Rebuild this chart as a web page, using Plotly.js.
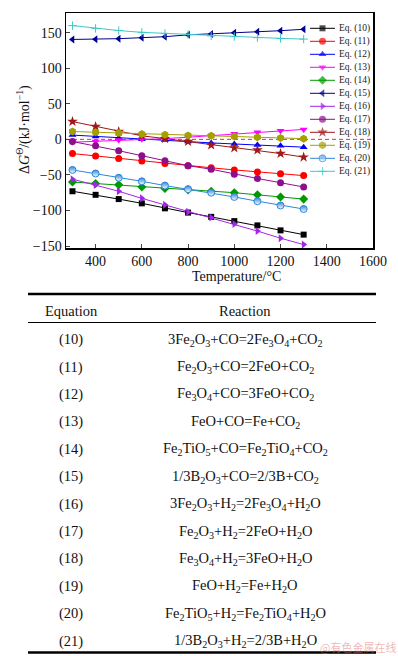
<!DOCTYPE html>
<html>
<head>
<meta charset="utf-8">
<script src="https://cdn.plot.ly/plotly-3.0.1.min.js"></script>
<style>html,body{margin:0;padding:0;background:#fff;}#chart{width:398px;height:656px;}</style>
</head>
<body>
<div id="chart"></div>
<script>
// ---- data ----
const temperature = [300, 400, 500, 600, 700, 800, 900, 1000, 1100, 1200, 1300];
const eq10 = [-73, -78, -84, -90, -97, -103, -109, -115, -121, -128, -134];
const eq11 = [-20, -23.5, -27, -30.5, -34, -37, -40, -43, -46, -48.5, -51];
const eq12 = [6, 4, 2, 0, -1, -3, -5, -6.5, -8, -9, -11];
const eq13 = [-4, -3, -1, 0, 1, 3, 5, 8, 10, 12, 14];
const eq14 = [-60, -62, -64, -67, -69, -71, -73, -75, -78, -81, -84];
const eq15 = [140.5, 140.7, 141.6, 143, 144.4, 147, 148.2, 150, 151.4, 152.8, 154.8];
const eq16 = [-56, -64, -73, -83, -92, -102, -110, -119, -129, -139, -148];
const eq17 = [-3, -9, -16, -23, -30, -37, -42, -49, -55, -61, -67];
const eq18 = [25, 18, 11, 5, 1, -3, -8, -12, -15, -20, -25];
const eq19 = [11, 10, 9, 7.5, 6.5, 5.5, 5, 4, 3, 2, 1];
const eq20 = [-43, -48, -54, -59, -65, -70, -75, -81, -87, -93, -98];
const eq21 = [160, 156, 153, 150.5, 149, 147.5, 145.5, 144.5, 143, 142, 141];
const seriesNames = ['Eq. (10)','Eq. (11)','Eq. (12)','Eq. (13)','Eq. (14)','Eq. (15)','Eq. (16)','Eq. (17)','Eq. (18)','Eq. (19)','Eq. (20)','Eq. (21)'];
const xTicks = [400, 600, 800, 1000, 1200, 1400, 1600];
const yTicks = [-150, -100, -50, 0, 50, 100, 150];
const eqLabels = ['(10)','(11)','(12)','(13)','(14)','(15)','(16)','(17)','(18)','(19)','(20)','(21)'];
const reactions = [
  '3Fe<sub>2</sub>O<sub>3</sub>+CO=2Fe<sub>3</sub>O<sub>4</sub>+CO<sub>2</sub>',
  'Fe<sub>2</sub>O<sub>3</sub>+CO=2FeO+CO<sub>2</sub>',
  'Fe<sub>3</sub>O<sub>4</sub>+CO=3FeO+CO<sub>2</sub>',
  'FeO+CO=Fe+CO<sub>2</sub>',
  'Fe<sub>2</sub>TiO<sub>5</sub>+CO=Fe<sub>2</sub>TiO<sub>4</sub>+CO<sub>2</sub>',
  '1/3B<sub>2</sub>O<sub>3</sub>+CO=2/3B+CO<sub>2</sub>',
  '3Fe<sub>2</sub>O<sub>3</sub>+H<sub>2</sub>=2Fe<sub>3</sub>O<sub>4</sub>+H<sub>2</sub>O',
  'Fe<sub>2</sub>O<sub>3</sub>+H<sub>2</sub>=2FeO+H<sub>2</sub>O',
  'Fe<sub>3</sub>O<sub>4</sub>+H<sub>2</sub>=3FeO+H<sub>2</sub>O',
  'FeO+H<sub>2</sub>=Fe+H<sub>2</sub>O',
  'Fe<sub>2</sub>TiO<sub>5</sub>+H<sub>2</sub>=Fe<sub>2</sub>TiO<sub>4</sub>+H<sub>2</sub>O',
  '1/3B<sub>2</sub>O<sub>3</sub>+H<sub>2</sub>=2/3B+H<sub>2</sub>O'
];

// ---- styles ----
const allSeries = [eq10, eq11, eq12, eq13, eq14, eq15, eq16, eq17, eq18, eq19, eq20, eq21];
const styles = [
  {c:'#000000', s:'square', z:6},
  {c:'#ff0000', s:'circle', z:7},
  {c:'#0000ff', s:'triangle-up', z:7},
  {c:'#ff00ff', s:'triangle-down', z:7},
  {c:'#009a00', s:'diamond', z:7},
  {c:'#000090', s:'triangle-left', z:7},
  {c:'#a424e8', s:'triangle-right', z:7},
  {c:'#8e0f8e', s:'circle', z:7},
  {c:'#a01818', s:'star', z:8},
  {c:'#a3a000', s:'hexagon', z:8},
  {c:'#2f86d8', s:'circle', z:7, grad:true},
  {c:'#40c8c8', s:'cross-thin', z:6, thin:true}
];
const FONT = '"Liberation Serif", "Times New Roman", serif';

// plot area in pixels
const L = 66, R = 373, T = 13, B = 248;
const W = 398, H = 656;
const PX = px => (px - L) / (R - L);
const PY = py => (B - py) / (B - T);

const traces = [];
allSeries.forEach((ys, i) => {
  const st = styles[i];
  const marker = {symbol: st.s, size: st.z, color: st.c, line: {width: st.thin ? 1 : 0, color: st.c}};
  if (st.grad) { marker.gradient = {type: 'vertical', color: '#ffffff'}; marker.line = {width: 1, color: st.c}; }
  traces.push({
    x: temperature, y: ys, type: 'scatter', mode: 'lines+markers', name: seriesNames[i],
    line: {color: st.c, width: 1}, marker: marker, showlegend: false, xaxis: 'x', yaxis: 'y'
  });
});

// custom compact legend (in pixel coordinates on an overlay axis pair)
seriesNames.forEach((n, i) => {
  const st = styles[i];
  const yy = 28.3 + i * 13.0;
  const marker = {symbol: st.s, size: [0, st.z, 0], color: st.c, line: {width: st.thin ? 1 : 0, color: st.c}};
  if (st.grad) { marker.gradient = {type: 'vertical', color: '#ffffff'}; marker.line = {width: 1, color: st.c}; }
  traces.push({
    x: [310, 322.5, 335], y: [yy, yy, yy], type: 'scatter', mode: 'lines+markers',
    line: {color: st.c, width: 1}, marker: marker, showlegend: false, hoverinfo: 'skip',
    xaxis: 'x2', yaxis: 'y2'
  });
});

const annotations = [];
seriesNames.forEach((n, i) => {
  annotations.push({xref: 'paper', yref: 'paper', x: PX(338), y: PY(28.3 + i * 13.0), xanchor: 'left', yanchor: 'middle',
    text: n, showarrow: false, borderpad: 0, font: {family: FONT, size: 9.5, color: '#222'}});
});
// axis titles
annotations.push({xref: 'paper', yref: 'paper', x: PX(236), y: PY(276), xanchor: 'center', yanchor: 'middle',
  text: 'Temperature/°C', showarrow: false, borderpad: 0, font: {family: FONT, size: 14, color: '#111'}});
annotations.push({xref: 'paper', yref: 'paper', x: PX(23), y: PY(130), xanchor: 'center', yanchor: 'middle', textangle: -90,
  text: 'Δ<i>G</i><sup>Θ</sup>/(kJ·mol<sup>−1</sup>)', showarrow: false, font: {family: FONT, size: 14, color: '#111'}});

// table
const tblL = 28, tblR = 376;
const TF = 14.5;
annotations.push({xref: 'paper', yref: 'paper', x: PX(71), y: PY(310.5), xanchor: 'center', yanchor: 'middle',
  text: 'Equation', showarrow: false, font: {family: FONT, size: TF, color: '#111'}});
annotations.push({xref: 'paper', yref: 'paper', x: PX(245), y: PY(310.5), xanchor: 'center', yanchor: 'middle',
  text: 'Reaction', showarrow: false, font: {family: FONT, size: TF, color: '#111'}});
eqLabels.forEach((lab, i) => {
  const yy = 339.7 + i * 27.4;
  annotations.push({xref: 'paper', yref: 'paper', x: PX(71), y: PY(yy), xanchor: 'center', yanchor: 'middle',
    text: lab, showarrow: false, font: {family: FONT, size: TF, color: '#111'}});
  annotations.push({xref: 'paper', yref: 'paper', x: PX(245), y: PY(yy), xanchor: 'center', yanchor: 'middle',
    text: reactions[i], showarrow: false, font: {family: FONT, size: TF, color: '#111'}});
});
// watermark
annotations.push({xref: 'paper', yref: 'paper', x: PX(397), y: PY(647), xanchor: 'right', yanchor: 'middle',
  text: '@有色金属在线', showarrow: false, borderpad: 0, font: {family: '"Noto Sans CJK SC"', size: 11, color: 'rgba(225,110,110,0.5)'}});

const shapes = [
  {type: 'line', xref: 'paper', yref: 'y', x0: 0, x1: 1, y0: 0, y1: 0, line: {color: '#e03030', width: 1, dash: '4px,3px'}, layer: 'below'},
  {type: 'line', xref: 'paper', yref: 'paper', x0: PX(tblL), x1: PX(tblR), y0: PY(294), y1: PY(294), line: {color: '#000', width: 2.5}},
  {type: 'line', xref: 'paper', yref: 'paper', x0: PX(tblL), x1: PX(tblR), y0: PY(322.5), y1: PY(322.5), line: {color: '#000', width: 1}},
  {type: 'line', xref: 'paper', yref: 'paper', x0: PX(tblL), x1: PX(tblR), y0: PY(652.5), y1: PY(652.5), line: {color: '#000', width: 2.5}}
];

const layout = {
  width: W, height: H,
  margin: {l: L, r: W - R, t: T, b: H - B, pad: 0},
  paper_bgcolor: '#fff', plot_bgcolor: '#fff',
  showlegend: false,
  font: {family: FONT, color: '#111'},
  xaxis: {range: [272, 1600], tickvals: xTicks, ticktext: xTicks.map(String), ticks: 'inside', ticklen: 4, tickwidth: 1,
    showline: true, mirror: true, linecolor: '#000', linewidth: 1.5, showgrid: false, zeroline: false,
    tickfont: {family: FONT, size: 14, color: '#111'}},
  yaxis: {range: [-152.8, 177.7], tickvals: yTicks, ticks: 'inside', ticklen: 4, tickwidth: 1,
    showline: true, mirror: true, linecolor: '#000', linewidth: 1.5, showgrid: false, zeroline: false,
    tickfont: {family: FONT, size: 14, color: '#111'}},
  xaxis2: {overlaying: 'x', range: [L, R], visible: false, fixedrange: true},
  yaxis2: {overlaying: 'y', range: [B, T], visible: false, fixedrange: true},
  annotations: annotations,
  shapes: shapes
};

Plotly.newPlot('chart', traces, layout, {displayModeBar: false, staticPlot: true});
</script>
</body>
</html>
